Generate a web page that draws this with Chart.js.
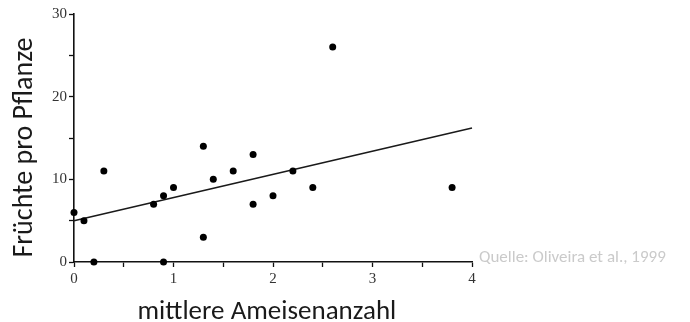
<!DOCTYPE html>
<html>
<head>
<meta charset="utf-8">
<script src="https://cdn.jsdelivr.net/npm/chart.js@4/dist/chart.umd.min.js"></script>
<style>
  html, body { margin: 0; padding: 0; background: #fff; }
  #wrap { position: relative; width: 690px; height: 322px; }
  #note {
    position: absolute; left: 479px; top: 247px;
    font-family: Carlito, Lato, "Open Sans", sans-serif; font-size: 17px;
    color: #cacaca; white-space: nowrap; line-height: 20px;
  }
</style>
</head>
<body>
<div id="wrap">
  <canvas id="c" width="690" height="322"></canvas>
  <div id="note">Quelle: Oliveira et al., 1999</div>
</div>
<script>
// mittlere Ameisenanzahl (x) and Früchte pro Pflanze (y)
const antsX   = [0, 0.1, 0.2, 0.3, 0.8, 0.9, 0.9, 1.0, 1.3, 1.3, 1.4, 1.6, 1.8, 1.8, 2.0, 2.2, 2.4, 2.6, 3.8];
const fruitsY = [6, 5,   0,   11,  7,   8,   0,   9,   14,  3,   10,  11,  13,  7,   8,   11,  9,   26,  9];
// regression line end points
const trendX = [0, 4];
const trendY = [5.0, 16.2];
// labelled ticks
const xTickLabels = [0, 1, 2, 3, 4];
const yTickLabels = [0, 10, 20, 30];

const xTitle = 'mittlere Ameisenanzahl';
const yTitle = 'Früchte pro Pflanze';

const scatterPts = antsX.map((x, i) => ({ x: x, y: fruitsY[i] }));
const trendPts = trendX.map((x, i) => ({ x: x, y: trendY[i] }));

const tickFont = { family: '"Liberation Serif", "Times New Roman", serif', size: 15 };
const titleFamily = 'Carlito, Lato, "Open Sans", sans-serif';
const NBSP = '\u00A0';

new Chart(document.getElementById('c'), {
  type: 'scatter',
  data: {
    datasets: [
      {
        label: 'Pflanzen',
        data: scatterPts,
        backgroundColor: '#000',
        borderColor: '#000',
        pointRadius: 3.5,
        pointHoverRadius: 3.5,
        borderWidth: 0,
        clip: false
      },
      {
        label: 'Regression',
        data: trendPts,
        showLine: true,
        borderColor: '#1a1a1a',
        borderWidth: 1.6,
        pointRadius: 0,
        fill: false,
        clip: false
      }
    ]
  },
  options: {
    responsive: false,
    devicePixelRatio: 1,
    animation: false,
    events: [],
    layout: { padding: { left: 0, right: 218, top: 14, bottom: 0 } },
    plugins: { legend: { display: false }, tooltip: { enabled: false } },
    scales: {
      x: {
        type: 'linear',
        min: 0, max: 4,
        afterFit: s => { s.height = 60; },
        ticks: {
          stepSize: 0.5,
          autoSkip: false,
          maxRotation: 0,
          padding: 3,
          color: '#333',
          font: tickFont,
          callback: v => xTickLabels.includes(v) ? String(v) : ''
        },
        grid: {
          drawOnChartArea: false,
          drawTicks: true,
          tickLength: 5,
          tickWidth: 1.3,
          tickColor: '#111'
        },
        border: { display: true, color: '#111', width: 1.6 },
        title: {
          display: true,
          text: xTitle + NBSP + NBSP,
          color: '#1a1a1a',
          font: { family: titleFamily, size: 27, lineHeight: 1 },
          padding: { top: 0, bottom: -4 }
        }
      },
      y: {
        type: 'linear',
        min: 0, max: 30,
        afterFit: s => { s.width = 74; },
        ticks: {
          stepSize: 5,
          autoSkip: false,
          padding: 2,
          color: '#333',
          font: tickFont,
          callback: v => yTickLabels.includes(v) ? String(v) : ''
        },
        grid: {
          drawOnChartArea: false,
          drawTicks: true,
          tickLength: 5,
          tickWidth: 1.3,
          tickColor: '#111'
        },
        border: { display: true, color: '#111', width: 1.6 },
        title: {
          display: true,
          text: yTitle + NBSP + NBSP + NBSP,
          color: '#1a1a1a',
          font: { family: titleFamily, size: 28, lineHeight: 1.2 },
          padding: { top: 8, bottom: 0 }
        }
      }
    }
  }
});
</script>
</body>
</html>
